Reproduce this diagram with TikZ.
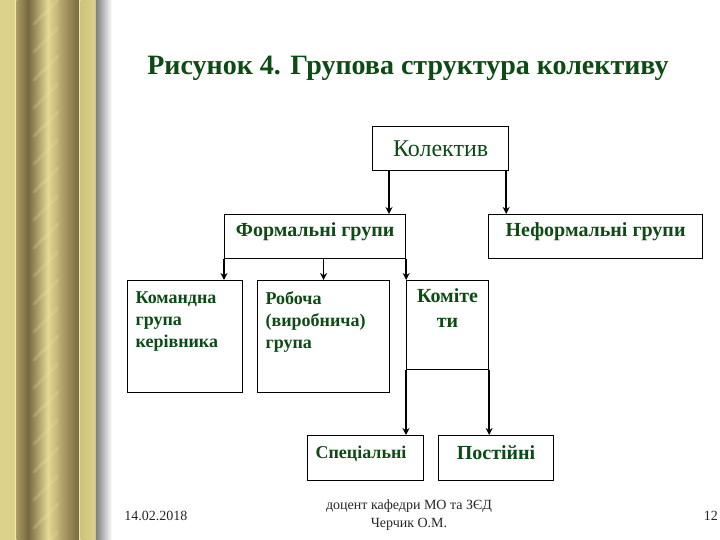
\documentclass[tikz,border=0pt]{standalone}
\usepackage{fontspec}
\setmainfont{Liberation Serif}
\usetikzlibrary{arrows.meta}

\definecolor{tgreen}{RGB}{12,76,20}
\definecolor{goldA}{RGB}{220,210,138}
\definecolor{goldB}{RGB}{206,194,122}
\definecolor{goldD}{RGB}{118,104,64}
\definecolor{goldM}{RGB}{168,154,98}
\definecolor{goldL}{RGB}{228,216,146}
\definecolor{goldE}{RGB}{242,234,172}

% text block inside a box: width, height, alignment, text
\newcommand{\cell}[4]{\parbox[c][#2pt][t]{#1pt}{#3#4}}

\tikzset{
  box/.style={draw, line width=0.6pt, inner sep=4pt, anchor=north west, text=tgreen,
    font=\bfseries\fontsize{10}{12.5}\selectfont},
  small/.style={font=\bfseries\fontsize{9}{11}\selectfont},
  conn/.style={line width=0.7pt, -{Stealth[length=3.5pt,width=3.5pt]}},
  foot/.style={font=\fontsize{7}{9}\selectfont, text=black!85}
}

\begin{document}
\begin{tikzpicture}[x=0.5pt,y=-0.5pt]

    \fill[white] (0,0) rectangle (720,540);
    \useasboundingbox (0,0) rectangle (720,540);

    % gold frame on the left
    \fill[goldA] (0,0) rectangle (15,540);
    \fill[goldE] (15,0) rectangle (16.5,540);
    \shade[left color=goldM, right color=goldD] (16.5,0) rectangle (28,540);
    \shade[left color=goldD, right color=goldL] (28,0) rectangle (48,540);
    \shade[left color=goldL, right color=goldM] (48,0) rectangle (64,540);
    \shade[left color=goldM, right color=goldD] (64,0) rectangle (79,540);
    \begin{scope}
        \clip (28,0) rectangle (70,540);
        \foreach \k in {0,...,20}
            \draw[goldE, line width=1.5pt, opacity=0.2, line cap=round] (34,28*\k+24) -- (58,28*\k);
    \end{scope}
    \fill[goldE] (79,0) rectangle (80.5,540);
    \shade[left color=goldB, right color=goldA] (80.5,0) rectangle (96,540);
    \shade[left color=black!50, right color=white] (96,0) rectangle (112,540);

    \node (title) at (408,68) [font=\bfseries\fontsize{14}{17}\selectfont, text=tgreen]
        {Рисунок 4. Групова структура колективу};

    % boxes
    \node (kol) at (372,126) [box, font=\fontsize{12}{14}\selectfont,
        minimum width=68pt, minimum height=22pt] {Колектив};
    \node (form) at (224,214) [box] {\cell{82.5}{14}{\centering}{Формальні групи}};
    \node (neform) at (488,214) [box] {\cell{99}{14}{\centering}{Неформальні групи}};
    \node (komand) at (127,280) [box, small, inner ysep=5.5pt]
        {\cell{49.5}{45}{\raggedright}{Командна\\група\\керівника}};
    \node (robocha) at (257,280) [box, small, inner ysep=5.5pt]
        {\cell{58}{45}{\raggedright}{Робоча\\(виробнича)\\група}};
    \node (komite) at (406,280) [box] {\cell{33}{36.5}{\centering}{Коміте\\ти}};
    \node (spec) at (307,435) [box, small, inner ysep=5pt] {\cell{50}{12.5}{\raggedright}{Спеціальні}};
    \node (post) at (438,435) [box, inner ysep=5pt] {\cell{49.5}{12.5}{\centering}{Постійні}};

    % connectors
    \draw[conn] (kol.south west) ++(17,0) coordinate (k1) -- (k1 |- form.north);
    \draw[conn] (kol.south east) ++(-3,0) coordinate (k2) -- (k2 |- neform.north);
    \draw[conn] (form.south west) -- (form.south west |- komand.north);
    \draw[conn] (robocha.north |- form.south) -- (robocha.north);
    \draw[conn] (form.south east) -- (form.south east |- komite.north);
    \draw[conn, line width=1pt] (komite.south west) -- (komite.south west |- spec.north);
    \draw[conn, line width=1pt] (komite.south east) -- (komite.south east |- post.north);

    % footer
    \node (date) at (156,516) [foot] {14.02.2018};
    \node (author) at (409,515) [foot, align=center] {доцент кафедри МО та ЗЄД\\Черчик О.М.};
    \node (page) at (711,516) [foot] {12};
\end{tikzpicture}
\end{document}
